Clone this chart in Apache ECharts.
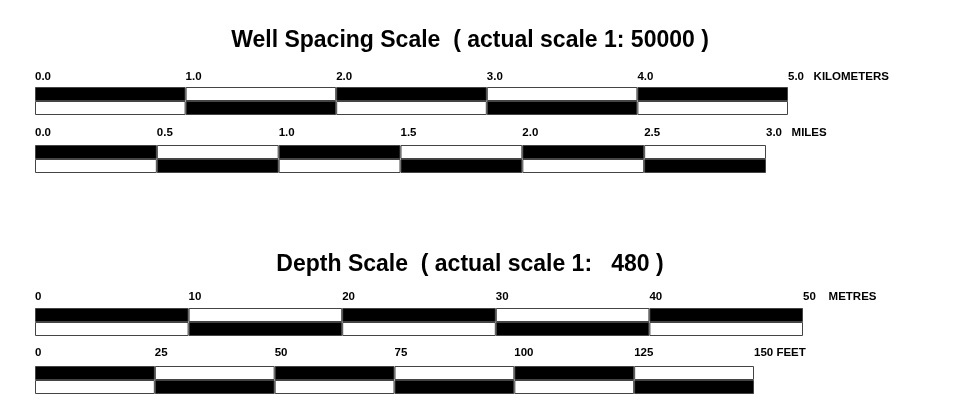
<!DOCTYPE html>
<html><head><meta charset="utf-8">
<script src="https://cdn.jsdelivr.net/npm/echarts@6/dist/echarts.min.js"></script>
<style>html,body{margin:0;padding:0;background:#fff}#c{width:965px;height:416px}</style>
</head><body><div id="c"></div>
<script>
// ---- data ----
const titles = ['Well Spacing Scale  ( actual scale 1: 50000 )', 'Depth Scale  ( actual scale 1:   480 )'];
const kmTicks = [0, 1, 2, 3, 4, 5];
const mileTicks = [0, 0.5, 1, 1.5, 2, 2.5, 3];
const metreTicks = [0, 10, 20, 30, 40, 50];
const feetTicks = [0, 25, 50, 75, 100, 125, 150];
const units = ['KILOMETERS', 'MILES', 'METRES', 'FEET'];
const decimals = [1, 1, 0, 0];
const rows = ['top', 'bottom'];

// ---- layout / style ----
const scales = [kmTicks, mileTicks, metreTicks, feetTicks];
const unitGaps = ['   ', '   ', '    ', ' '];
const layout = [
  { top: 87, width: 753, margin: 10 },
  { top: 145, width: 731, margin: 12 },
  { top: 308, width: 768, margin: 11 },
  { top: 366, width: 719, margin: 13 }
];
const FONT = 'Liberation Sans, Arial, Helvetica, sans-serif';

const grid = [], xAxis = [], yAxis = [], series = [];
scales.forEach((ticks, g) => {
  const L = layout[g];
  const max = ticks[ticks.length - 1];
  grid.push({ left: 35, top: L.top, width: L.width, height: 28, outerBoundsMode: 'none', containLabel: false });
  xAxis.push({
    gridIndex: g, type: 'value', position: 'top', min: 0, max: max,
    interval: ticks[1] - ticks[0],
    axisLine: { show: false }, axisTick: { show: false }, splitLine: { show: false },
    axisLabel: {
      show: true, showMinLabel: true, showMaxLabel: true, align: 'left', verticalAlign: 'middle',
      margin: L.margin, fontSize: 11.5, fontWeight: 'bold', fontFamily: FONT, color: '#000',
      formatter: v => {
        let s = Number(v).toFixed(decimals[g]);
        if (Math.abs(v - max) < 1e-9) s += unitGaps[g] + units[g];
        return s;
      }
    }
  });
  yAxis.push({ gridIndex: g, type: 'category', data: rows, inverse: true, show: false });
  for (let i = 0; i < ticks.length - 1; i++) {
    series.push({
      type: 'bar', xAxisIndex: g, yAxisIndex: g, stack: 's' + g,
      barWidth: '100%', barCategoryGap: '0%', silent: true,
      itemStyle: { borderColor: '#444', borderWidth: 1 },
      data: rows.map((r, ri) => ({
        value: ticks[i + 1] - ticks[i],
        itemStyle: { color: (i + ri) % 2 === 0 ? '#000' : '#fff' }
      }))
    });
  }
});

const chart = echarts.init(document.getElementById('c'), null, { renderer: 'canvas' });
chart.setOption({
  animation: false,
  backgroundColor: '#fff',
  title: [
    { text: titles[0], left: 465, top: 24, textAlign: 'center', padding: 5,
      textStyle: { fontSize: 23, fontWeight: 'bold', fontFamily: FONT, color: '#000' } },
    { text: titles[1], left: 465, top: 248, textAlign: 'center', padding: 5,
      textStyle: { fontSize: 23, fontWeight: 'bold', fontFamily: FONT, color: '#000' } }
  ],
  grid, xAxis, yAxis, series
});
</script>
</body></html>
